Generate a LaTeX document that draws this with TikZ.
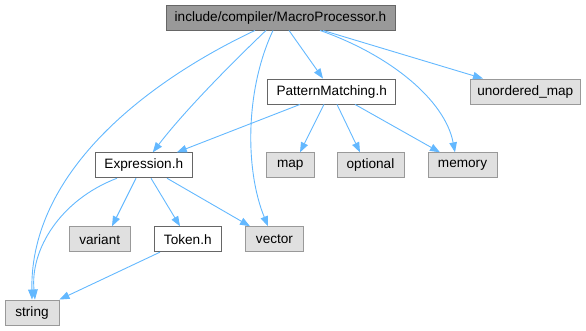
\documentclass[tikz,border=0pt]{standalone}
\usepackage{fontspec}
\setmainfont{Liberation Sans}
\usetikzlibrary{arrows.meta}
\definecolor{edgeblue}{HTML}{63B8FF}
\definecolor{mainfill}{HTML}{999999}
\definecolor{mainline}{HTML}{666666}
\definecolor{sysfill}{HTML}{E0E0E0}
\definecolor{sysline}{HTML}{999999}
\begin{document}
\begin{tikzpicture}[x=1pt,y=-1pt,
  base/.style={rectangle,minimum height=25pt,inner sep=0pt,line width=0.9pt,
    font=\fontsize{13.6}{15}\selectfont},
  mainbox/.style={base,draw=mainline,fill=mainfill},
  localbox/.style={base,draw=mainline,fill=white},
  sysbox/.style={base,draw=sysline,fill=sysfill},
  dep/.style={draw=edgeblue,line width=0.9pt,-{Triangle[length=10pt,width=7.5pt]}}]
\useasboundingbox (0,0) rectangle (586,331);

% headers
\node[mainbox,minimum width=229pt] (main) at (280.5,17.5) {include/compiler/MacroProcessor.h};
\node[localbox,minimum width=128pt] (pm) at (331.7,91.5) {PatternMatching.h};
\node[sysbox,minimum width=110.7pt] (umap) at (525.3,91.5) {unordered\_map};
\node[sysbox,minimum width=47.3pt] (map) at (290.3,165.3) {map};
\node[sysbox,minimum width=67pt] (opt) at (370.5,165.3) {optional};
\node[sysbox,minimum width=69pt] (mem) at (462.5,165.3) {memory};
\node[localbox,minimum width=97.7pt] (expr) at (143.8,165.3) {Expression.h};
\node[sysbox,minimum width=60.7pt] (variant) at (99.7,239.2) {variant};
\node[localbox,minimum width=67.7pt] (token) at (187.8,239.2) {Token.h};
\node[sysbox,minimum width=57.6pt] (vector) at (274.5,239.2) {vector};
\node[sysbox,minimum width=54pt] (string) at (32,312.5) {string};

% includes of MacroProcessor.h
\draw[dep] ([xshift=-25.5pt]main.south) .. controls (150,80) and (30,170) .. ([xshift=0pt]string.north);
\draw[dep] ([xshift=-14.5pt]main.south) .. controls (235,60) and (185,110) .. ([xshift=9pt]expr.north);
\draw[dep] ([xshift=-7.5pt]main.south) .. controls (245,90) and (245,170) .. ([xshift=-6.5pt]vector.north);
\draw[dep] ([xshift=8.5pt]main.south) -- ([xshift=-8.7pt]pm.north);
\draw[dep] ([xshift=39.5pt]main.south) .. controls (390,55) and (445,100) .. ([xshift=-7.5pt]mem.north);
\draw[dep] ([xshift=42.5pt]main.south) -- ([xshift=-42.3pt]umap.north);

% includes of PatternMatching.h
\draw[dep] ([xshift=-31.7pt]pm.south) -- ([xshift=33pt]expr.north);
\draw[dep] ([xshift=-7.7pt]pm.south) -- ([xshift=9.7pt]map.north);
\draw[dep] ([xshift=5.3pt]pm.south) -- ([xshift=-10.5pt]opt.north);
\draw[dep] ([xshift=23.3pt]pm.south) -- ([xshift=-22.5pt]mem.north);

% includes of Expression.h
\draw[dep] ([xshift=-26.8pt]expr.south) .. controls (60,200) and (30,250) .. ([xshift=3pt]string.north);
\draw[dep] ([xshift=-7.8pt]expr.south) -- ([xshift=12.3pt]variant.north);
\draw[dep] ([xshift=7.2pt]expr.south) -- ([xshift=-7.8pt]token.north);
\draw[dep] ([xshift=23.2pt]expr.south) -- ([xshift=-24.5pt]vector.north);

% includes of Token.h
\draw[dep] ([xshift=-27.8pt]token.south) -- (string.north east);
\end{tikzpicture}
\end{document}
